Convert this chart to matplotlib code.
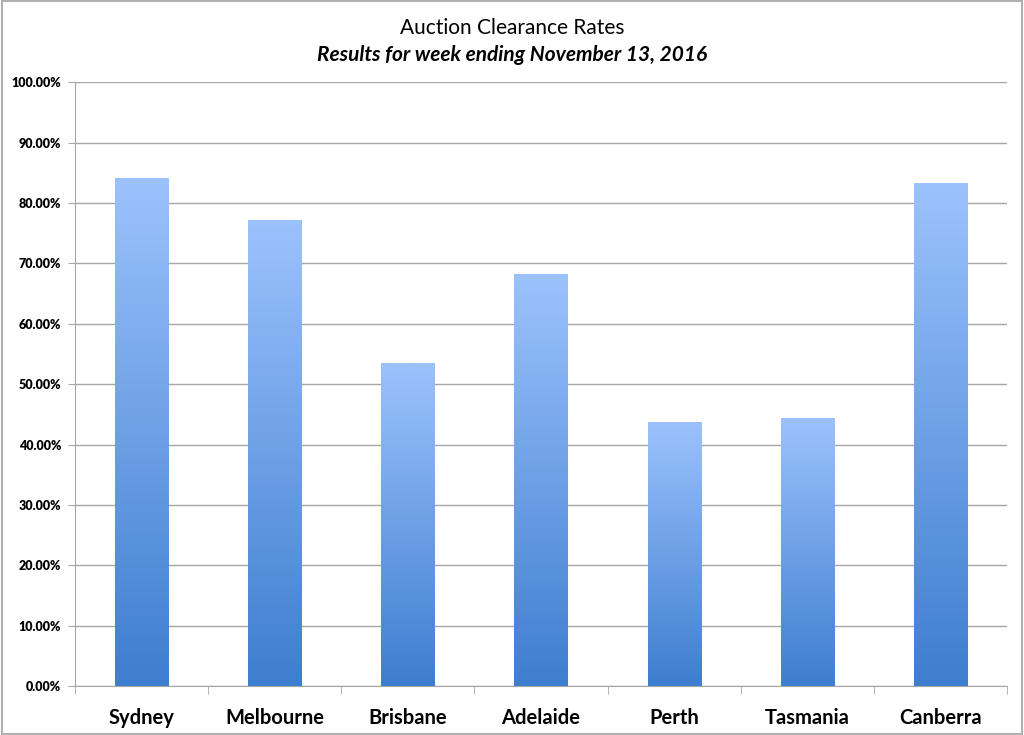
import matplotlib
matplotlib.use("Agg")
import matplotlib.pyplot as plt
import numpy as np
from matplotlib.colors import LinearSegmentedColormap
from matplotlib.patches import Rectangle
from matplotlib.ticker import FuncFormatter, MultipleLocator

cities = ["Sydney", "Melbourne", "Brisbane", "Adelaide", "Perth", "Tasmania", "Canberra"]
clearance = [84.2, 77.2, 53.5, 68.3, 43.8, 44.4, 83.3]

title = "Auction Clearance Rates"
subtitle = "Results for week ending November 13, 2016"

plt.rcParams["font.family"] = ["Lato", "DejaVu Sans"]

fig = plt.figure(figsize=(10.24, 7.35), dpi=100)
ax = fig.add_axes([75 / 1024, 49 / 735, 932 / 1024, 603.7 / 735])

# bar gradient: light on top, darker at the base
cmap = LinearSegmentedColormap.from_list("bar", ["#3e7ecf", "#9cc2fd"])
grad = np.linspace(0, 1, 256).reshape(-1, 1)
width = 0.4
x = np.arange(len(cities))
bars = ax.bar(x, clearance, width=width, color="none", edgecolor="none", zorder=3)
for b in bars:
    x0, y0 = b.get_x(), b.get_y()
    im = ax.imshow(grad, cmap=cmap, aspect="auto", origin="lower",
                   extent=[x0, x0 + b.get_width(), y0, y0 + b.get_height()],
                   zorder=3)
    im.set_clip_path(b)

ax.set_xlim(-0.5, len(cities) - 0.5)
ax.set_ylim(0, 100)
ax.yaxis.set_major_locator(MultipleLocator(10))
ax.yaxis.set_major_formatter(FuncFormatter(lambda v, p: f"{v:.2f}%"))
ax.grid(axis="y", color="#a6a6a6", linewidth=1.0, zorder=0)

ax.set_xticks(x)
ax.set_xticklabels(cities, fontsize=14.5, fontweight="bold")
ax.tick_params(axis="x", length=0, pad=16)
ax.set_xticks(np.arange(-0.5, len(cities), 1), minor=True)
ax.tick_params(axis="x", which="minor", length=6, color="#a6a6a6", direction="out")
ax.tick_params(axis="y", length=5, color="#a6a6a6", labelsize=9, pad=5)
for lab in ax.get_yticklabels():
    lab.set_fontweight("heavy")

for side in ["top", "right"]:
    ax.spines[side].set_visible(False)
for side in ["left", "bottom"]:
    ax.spines[side].set_color("#a6a6a6")

fig.text(0.5, 1 - 28 / 735, title, ha="center", va="center", fontsize=15)
fig.text(0.5, 1 - 55 / 735, subtitle, ha="center", va="center", fontsize=15,
         fontweight="bold", fontstyle="italic")

fig.patches.append(Rectangle((0.002, 0.002), 0.996, 0.996, transform=fig.transFigure,
                             fill=False, edgecolor="#b0b0b0", linewidth=1.5))

fig.savefig("out.png", dpi=100)
